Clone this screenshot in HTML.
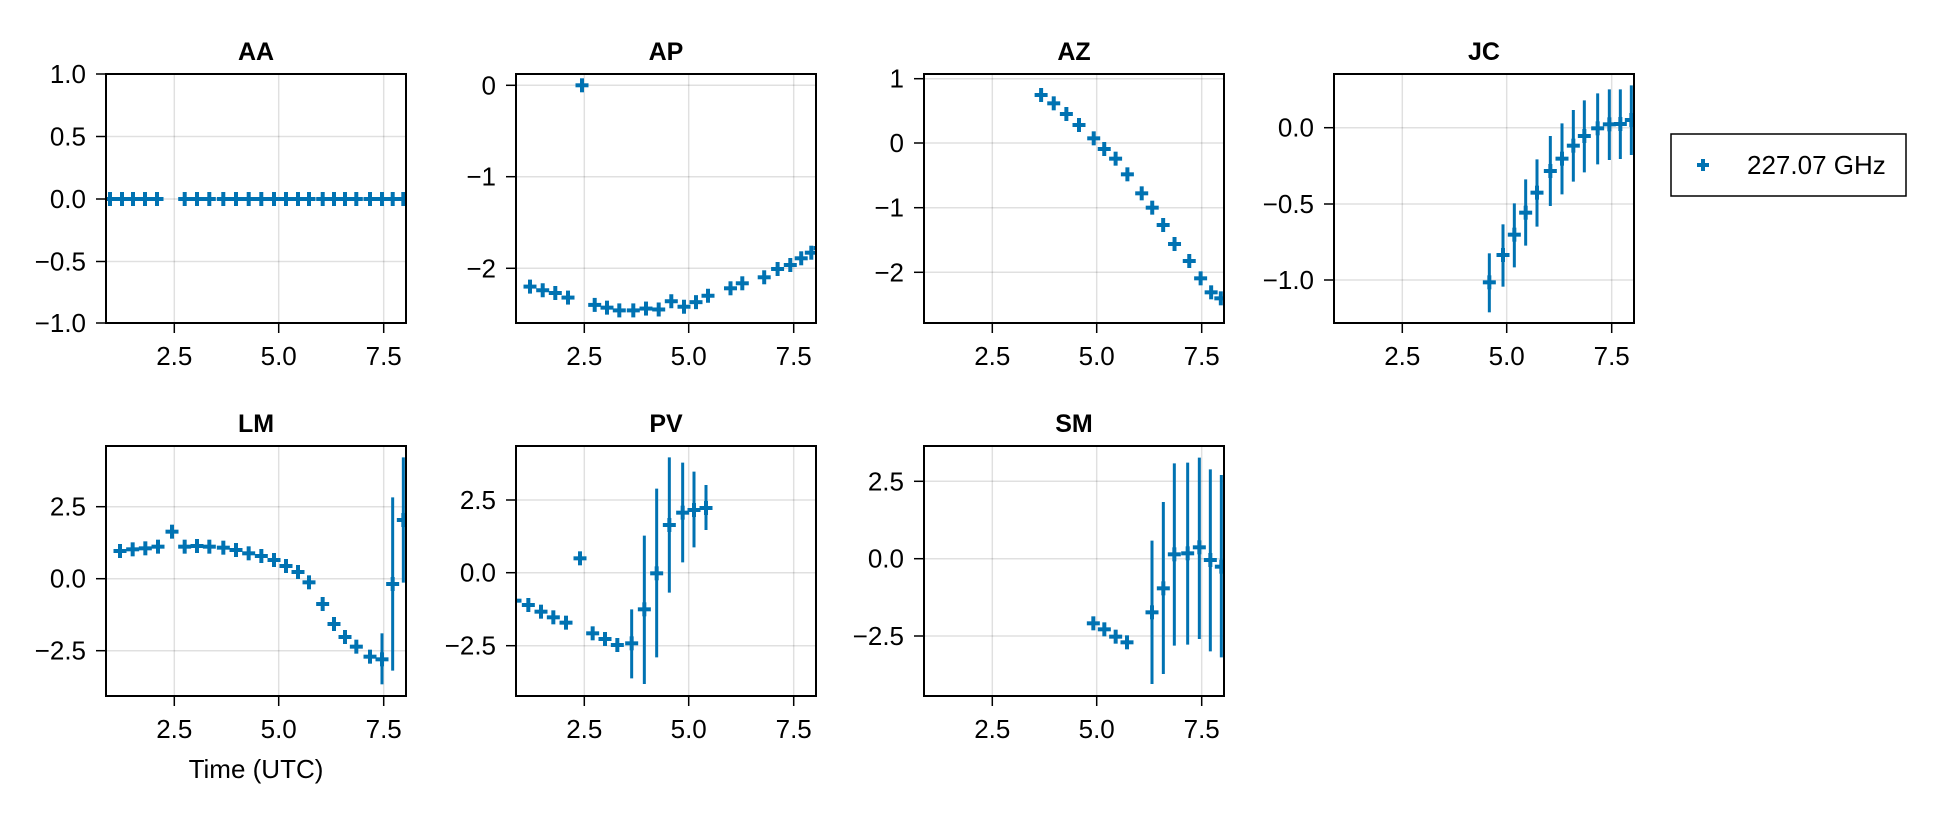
<!DOCTYPE html>
<html><head><meta charset="utf-8"><style>
html,body{margin:0;padding:0;background:#fff;}
svg{display:block;font-family:"Liberation Sans",sans-serif;}
</style></head><body>
<svg id="s" width="1940" height="814" xmlns="http://www.w3.org/2000/svg"></svg>
<script>
const S=document.getElementById('s');let h='';
const C='#0072b2';
const W=300;
const FS=26;
const panels=[
 {t:'AA',x:106,y:74,H:249,yt:[['1.0',74],['0.5',136.5],['0.0',199],['−0.5',261.5],['−1.0',323]]},
 {t:'AP',x:516,y:74,H:249,yt:[['0',85.3],['−1',176.7],['−2',268.3]]},
 {t:'AZ',x:924,y:74,H:249,yt:[['1',78.7],['0',143],['−1',207.7],['−2',272.3]]},
 {t:'JC',x:1334,y:74,H:249,yt:[['0.0',127.7],['−0.5',204],['−1.0',280]]},
 {t:'LM',x:106,y:446,H:250,yt:[['2.5',506.7],['0.0',578.7],['−2.5',650.7]]},
 {t:'PV',x:516,y:446,H:250,yt:[['2.5',500],['0.0',572.7],['−2.5',645.7]]},
 {t:'SM',x:924,y:446,H:250,yt:[['2.5',481.3],['0.0',558.7],['−2.5',636]]},
];
const xg=[['2.5',68.3],['5.0',172.7],['7.5',277.7]];
panels.forEach((p,i)=>{
 h+=`<clipPath id="c${i}"><rect x="${p.x}" y="${p.y}" width="${W}" height="${p.H}"/></clipPath>`;
 xg.forEach(g=>{h+=`<line x1="${p.x+g[1]}" x2="${p.x+g[1]}" y1="${p.y}" y2="${p.y+p.H}" stroke="#000" stroke-opacity="0.12" stroke-width="1.5"/>`;
  h+=`<line x1="${p.x+g[1]}" x2="${p.x+g[1]}" y1="${p.y+p.H}" y2="${p.y+p.H+10}" stroke="#000" stroke-width="1.5"/>`;
  h+=`<text x="${p.x+g[1]}" y="${p.y+p.H+42}" font-size="${FS}" text-anchor="middle">${g[0]}</text>`;});
 p.yt.forEach(g=>{h+=`<line x1="${p.x}" x2="${p.x+W}" y1="${g[1]}" y2="${g[1]}" stroke="#000" stroke-opacity="0.12" stroke-width="1.5"/>`;
  h+=`<line x1="${p.x-10}" x2="${p.x}" y1="${g[1]}" y2="${g[1]}" stroke="#000" stroke-width="1.5"/>`;
  h+=`<text x="${p.x-20}" y="${g[1]+9}" font-size="${FS}" text-anchor="end">${g[0]}</text>`;});
 h+=`<text x="${p.x+W/2}" y="${p.y-14}" font-size="25" font-weight="bold" text-anchor="middle">${p.t}</text>`;
});
function pt(x,y,a,b,i){
 let s=`<g clip-path="url(#c${i})" stroke="${C}">`;
 if(a!==undefined) s+=`<line x1="${x}" x2="${x}" y1="${a}" y2="${b}" stroke-width="3"/>`;
 s+=`<line x1="${x-6.5}" x2="${x+6.5}" y1="${y}" y2="${y}" stroke-width="4"/><line x1="${x}" x2="${x}" y1="${y-7}" y2="${y+7}" stroke-width="4"/></g>`;
 return s;
}
const off=[14,26.7,39.3,52,66,78.7,91,103.3,117.3,130,142.7,155.3,168,180,192,203,216.7,228,239,250.3,264,276,286.7,297.3];
// AA
[4,16,27,39,51].concat(off.slice(5)).concat([309]).forEach(o=>h+=pt(106+o,199,undefined,undefined,0));
// AP
const apv=[-2.2,-2.24,-2.27,-2.32,0,-2.4,-2.43,-2.46,-2.46,-2.44,-2.45,-2.36,-2.42,-2.37,-2.3];
apv.forEach((v,k)=>h+=pt(516+off[k],85.3-v*91.5,undefined,undefined,1));
[[730.5,288.3],[742.3,283.3],[764.2,277.3],[777.6,269],[790.3,265],[801.2,258.3],[811.3,252.7],[820,248]].forEach(q=>h+=pt(q[0],q[1],undefined,undefined,1));
// AZ
[[858,165],[888,190],[918,222],[948,255],[983,295],[1008,327],[1035,356],[1063,403],[1097,460],[1122,503],[1148,555],[1175,612],[1210,663],[1237,715],[1262,757],[1285,775]].forEach(q=>h+=pt(680+q[0]/2.376,40+q[1]/3,undefined,undefined,2));
// JC
[[478,667,580,757],[519,585,493,680],[553,524,430,622],[587,458,358,557],[621,398,298,500],[661,333,228,438],[696,296,190,403],[730,257,150,365],[763,228,121,337],[803,205,100,313],[838,193,88,300],[871,192,88,297],[904,180,76,285]].forEach(q=>h+=pt(1330+q[0]/3,60+q[1]/3,60+q[2]/3,60+q[3]/3,3));
// LM
[[60,333],[98,328],[136,325],[174,320],[216,275],[254,320],[291,318],[328,320],[370,323],[408,330],[446,340],[484,348],[522,360],[558,378],[594,396],[627,427],[668,492],[702,552],[735,591],[769,620],[810,650],[846,658,580,733],[878,432,172,692],[910,240,52,428]].forEach(q=>h+=pt(100+q[0]/3,440+q[1]/3,q[2]?440+q[2]/3:undefined,q[3]?440+q[3]/3:undefined,4));
// PV
[[15,482],[55,495],[93,515],[130,532],[168,548],[210,355],[248,580],[285,597],[322,615],[365,610,508,715],[403,508,287,732],[440,400,146,652],[478,255,52,458],[518,218,68,367],[552,210,95,322],[588,204,135,270]].forEach(q=>h+=pt(510+q[0]/3,440+q[1]/3,q[2]?440+q[2]/3:undefined,q[3]?440+q[3]/3:undefined,5));
// SM
[[520,550],[553,568],[587,590],[621,607],[696,517,302,732],[730,445,186,702],[763,343,70,617],[803,340,68,614],[838,322,53,597],[871,360,88,634],[904,380,105,652]].forEach(q=>h+=pt(920+q[0]/3,440+q[1]/3,q[2]?440+q[2]/3:undefined,q[3]?440+q[3]/3:undefined,6));
panels.forEach(p=>{h+=`<rect x="${p.x}" y="${p.y}" width="${W}" height="${p.H}" fill="none" stroke="#000" stroke-width="2"/>`;});
h+=`<text x="256" y="778" font-size="${FS}" text-anchor="middle">Time (UTC)</text>`;
h+=`<rect x="1671" y="134" width="235" height="62" fill="#fff" stroke="#000" stroke-width="1.5"/>`;
h+=`<line x1="1697" x2="1709" y1="165" y2="165" stroke="${C}" stroke-width="4"/><line x1="1703" x2="1703" y1="159" y2="171" stroke="${C}" stroke-width="4"/>`;
h+=`<text x="1747" y="174" font-size="${FS}">227.07 GHz</text>`;
S.innerHTML=h;
</script>
</body></html>
